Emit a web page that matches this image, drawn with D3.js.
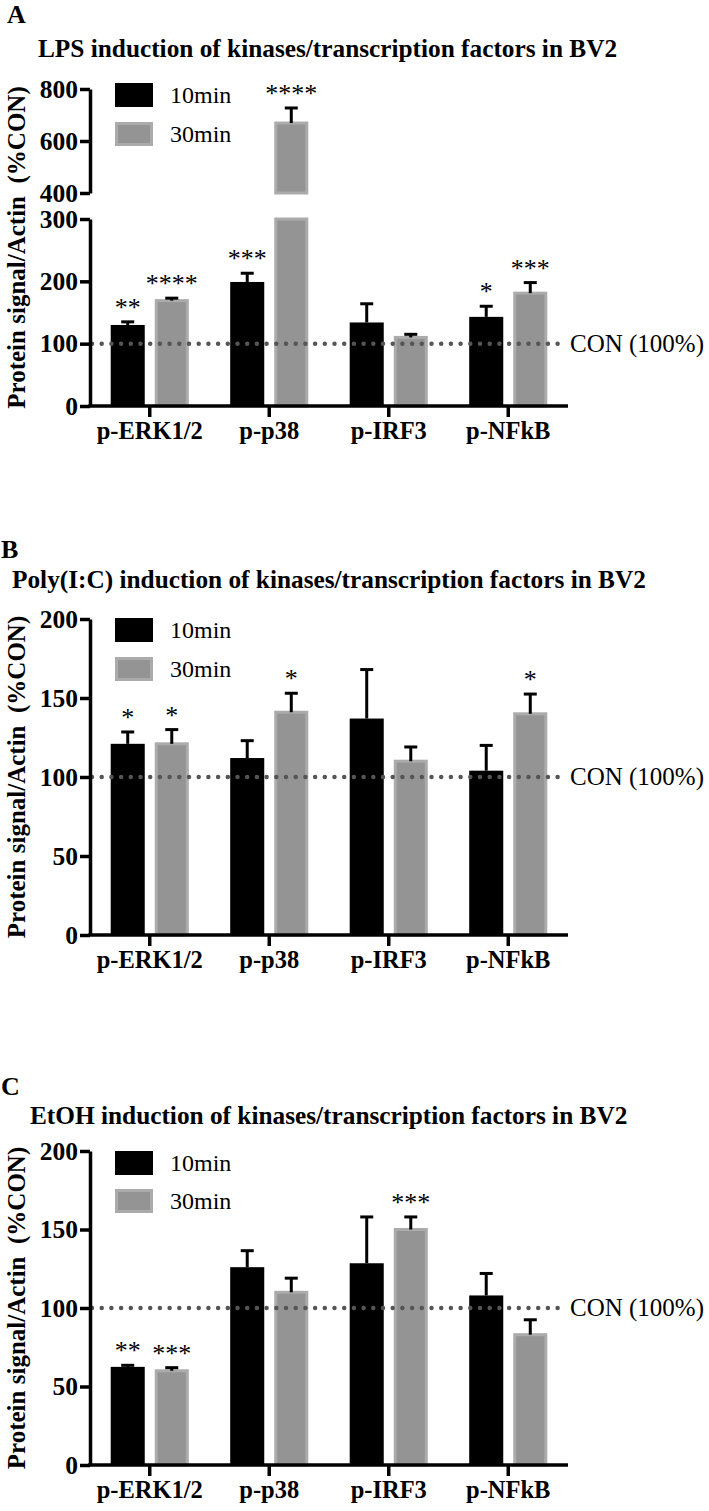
<!DOCTYPE html>
<html>
<head>
<meta charset="utf-8">
<script src="https://cdn.jsdelivr.net/npm/d3@7"></script>
<style>
  body { margin: 0; background: #fff; }
  text { font-family: "Liberation Serif", "Times New Roman", serif; }
</style>
</head>
<body>
<svg id="chart" width="709" height="1511"></svg>
<script>
let svg = d3.select("#chart");

//! DATA
let categories = ["p-ERK1/2", "p-p38", "p-IRF3", "p-NFkB"];
let series = ["10min", "30min"];

let lpsMean10 = [130, 199, 134, 143];
let lpsErr10 = [5, 14, 30, 17];
let lpsMean30 = [169, 669, 110, 181];
let lpsErr30 = [4, 58, 5, 17];
let lpsSig10 = ["**", "***", "", "*"];
let lpsSig30 = ["****", "****", "", "***"];

let polyMean10 = [121, 112, 137, 104];
let polyErr10 = [7.5, 11, 31, 16];
let polyMean30 = [121, 141, 110, 140];
let polyErr30 = [9, 12, 9, 12.5];
let polySig10 = ["*", "", "", ""];
let polySig30 = ["*", "*", "", "*"];

let etohMean10 = [62.5, 126, 128.5, 108];
let etohErr10 = [1, 10.5, 29.5, 14];
let etohMean30 = [60, 110, 150, 83];
let etohErr30 = [2, 9, 8, 9.5];
let etohSig10 = ["**", "", "", ""];
let etohSig30 = ["***", "", "***", ""];

let ticksLow = [0, 100, 200, 300];
let ticksHigh = [400, 600, 800];
let ticksSmall = [0, 50, 100, 150, 200];
let controlLevel = 100;

let black = "#000";
let grayFill = "#949494";
let grayEdge = "#ababab";
let serif = "Liberation Serif, Times New Roman, serif";

//? build rows for one panel
function rows(m10, e10, s10, m30, e30, s30) {
    let out = [];
    categories.forEach(function (c, i) {
        out.push({ cat: c, ser: "10min", v: m10[i], e: e10[i], sig: s10[i] });
        out.push({ cat: c, ser: "30min", v: m30[i], e: e30[i], sig: s30[i] });
    });
    return out;
}

let panels = [
    {
        letter: "A", letterX: 7, letterY: 23,
        title: "LPS induction of kinases/transcription factors in BV2", titleX: 38, titleY: 57,
        segments: [
            { scale: d3.scaleLinear().domain([0, 300]).range([406, 219]), ticks: ticksLow },
            { scale: d3.scaleLinear().domain([400, 800]).range([193, 89]), ticks: ticksHigh }
        ],
        legendY: 83, legendGap: 39,
        data: rows(lpsMean10, lpsErr10, lpsSig10, lpsMean30, lpsErr30, lpsSig30)
    },
    {
        letter: "B", letterX: 1, letterY: 558,
        title: "Poly(I:C) induction of kinases/transcription factors in BV2", titleX: 12, titleY: 588,
        segments: [
            { scale: d3.scaleLinear().domain([0, 200]).range([935, 619]), ticks: ticksSmall }
        ],
        legendY: 618, legendGap: 39,
        data: rows(polyMean10, polyErr10, polySig10, polyMean30, polyErr30, polySig30)
    },
    {
        letter: "C", letterX: 1, letterY: 1095,
        title: "EtOH induction of kinases/transcription factors in BV2", titleX: 30, titleY: 1124,
        segments: [
            { scale: d3.scaleLinear().domain([0, 200]).range([1465, 1151]), ticks: ticksSmall }
        ],
        legendY: 1151, legendGap: 38,
        data: rows(etohMean10, etohErr10, etohSig10, etohMean30, etohErr30, etohSig30)
    }
];

let axisX = 90;
let x = d3.scaleBand().domain(categories).range([axisX, 568]);
let xSub = d3.scaleBand().domain(series).range([0, x.bandwidth()])
    .paddingInner(0.227).paddingOuter(0.47);

// value -> y, picking the segment that holds it
function yOf(p, v) {
    for (let s of p.segments) {
        let d = s.scale.domain();
        if (v >= d[0] && v <= d[1]) return s.scale(v);
    }
    return p.segments[p.segments.length - 1].scale(v);
}

function cx(r) {
    return x(r.cat) + xSub(r.ser) + xSub.bandwidth() / 2;
}

panels.forEach(function (p) {
    let g = svg.append("g");
    let base = p.segments[0].scale;
    let yBottom = base.range()[0];
    let yTop = p.segments[p.segments.length - 1].scale.range()[1];

    g.append("text").attr("x", p.letterX).attr("y", p.letterY)
        .attr("font-size", 26).attr("font-weight", "bold").text(p.letter);

    g.append("text").attr("x", p.titleX).attr("y", p.titleY)
        .attr("font-size", 25.3).attr("font-weight", "bold").text(p.title);

    //? y axis label
    g.append("text")
        .attr("transform", "translate(25," + ((yTop + yBottom) / 2) + ") rotate(-90)")
        .attr("text-anchor", "middle")
        .attr("font-size", 25).attr("font-weight", "bold")
        .style("white-space", "pre")
        .text("Protein signal/Actin  (%CON)");

    //? bars, one rect per axis segment
    p.segments.forEach(function (s) {
        let d = s.scale.domain();
        g.append("g").selectAll("rect")
            .data(p.data.filter(function (r) { return r.v > d[0]; }))
            .enter()
            .append("rect")
            .attr("x", function (r) { return x(r.cat) + xSub(r.ser) + (r.ser === "30min" ? 1.5 : 0); })
            .attr("width", function (r) { return xSub.bandwidth() - (r.ser === "30min" ? 3 : 0); })
            .attr("y", function (r) { return s.scale(Math.min(r.v, d[1])); })
            .attr("height", function (r) { return s.scale(d[0]) - s.scale(Math.min(r.v, d[1])); })
            .attr("fill", function (r) { return r.ser === "10min" ? black : grayFill; })
            .attr("stroke", function (r) { return r.ser === "10min" ? "none" : grayEdge; })
            .attr("stroke-width", 3);
    });

    //? control line
    g.append("line")
        .attr("x1", axisX + 2).attr("x2", 560)
        .attr("y1", yOf(p, controlLevel)).attr("y2", yOf(p, controlLevel))
        .attr("stroke", "#555").attr("stroke-width", 4.5)
        .attr("stroke-linecap", "round").attr("stroke-dasharray", "0 9.7");

    g.append("text").attr("x", 570).attr("y", yOf(p, controlLevel) + 8)
        .attr("font-size", 25).text("CON (100%)");

    //? error bars (upper only)
    let eb = g.append("g").selectAll("g").data(p.data).enter().append("g");
    eb.append("line")
        .attr("x1", cx).attr("x2", cx)
        .attr("y1", function (r) { return yOf(p, r.v); })
        .attr("y2", function (r) { return yOf(p, r.v + r.e); })
        .attr("stroke", black).attr("stroke-width", 3);
    eb.append("line")
        .attr("x1", function (r) { return cx(r) - 6.5; })
        .attr("x2", function (r) { return cx(r) + 6.5; })
        .attr("y1", function (r) { return yOf(p, r.v + r.e); })
        .attr("y2", function (r) { return yOf(p, r.v + r.e); })
        .attr("stroke", black).attr("stroke-width", 3);

    //? significance stars
    eb.append("text")
        .attr("x", cx)
        .attr("y", function (r) { return yOf(p, r.v + r.e) - 6; })
        .attr("text-anchor", "middle")
        .attr("font-size", 26)
        .text(function (r) { return r.sig; });

    //? y axes
    p.segments.forEach(function (s) {
        let ax = g.append("g")
            .attr("transform", "translate(" + axisX + ",0)")
            .call(d3.axisLeft(s.scale).tickValues(s.ticks).tickSize(10).tickSizeOuter(0).tickPadding(2));
        ax.select(".domain").attr("stroke-width", 3.5);
        ax.selectAll(".tick line").attr("stroke-width", 3.5);
        ax.selectAll(".tick text")
            .attr("font-size", 25.5).attr("font-weight", "bold")
            .attr("font-family", serif);
    });

    //? x axis
    let xa = g.append("g")
        .attr("transform", "translate(0," + yBottom + ")")
        .call(d3.axisBottom(x).tickSize(11).tickSizeOuter(0).tickPadding(5));
    xa.select(".domain").attr("stroke-width", 3.5).attr("d", "M" + (axisX - 1.75) + ",0H568");
    xa.selectAll(".tick line").attr("stroke-width", 3.5);
    xa.selectAll(".tick text")
        .attr("font-size", 24.5).attr("font-weight", "bold")
        .attr("font-family", serif);

    //? legend
    let lg = g.append("g");
    lg.append("rect").attr("x", 115).attr("y", p.legendY).attr("width", 38).attr("height", 24)
        .attr("fill", black);
    lg.append("rect").attr("x", 116.5).attr("y", p.legendY + p.legendGap + 1.5).attr("width", 35).attr("height", 21)
        .attr("fill", grayFill).attr("stroke", grayEdge).attr("stroke-width", 3);
    lg.selectAll("text").data(series).enter().append("text")
        .attr("x", 170)
        .attr("y", function (d, i) { return p.legendY + 20 + i * p.legendGap; })
        .attr("font-size", 24)
        .text(function (d) { return d; });
});
</script>
</body>
</html>
